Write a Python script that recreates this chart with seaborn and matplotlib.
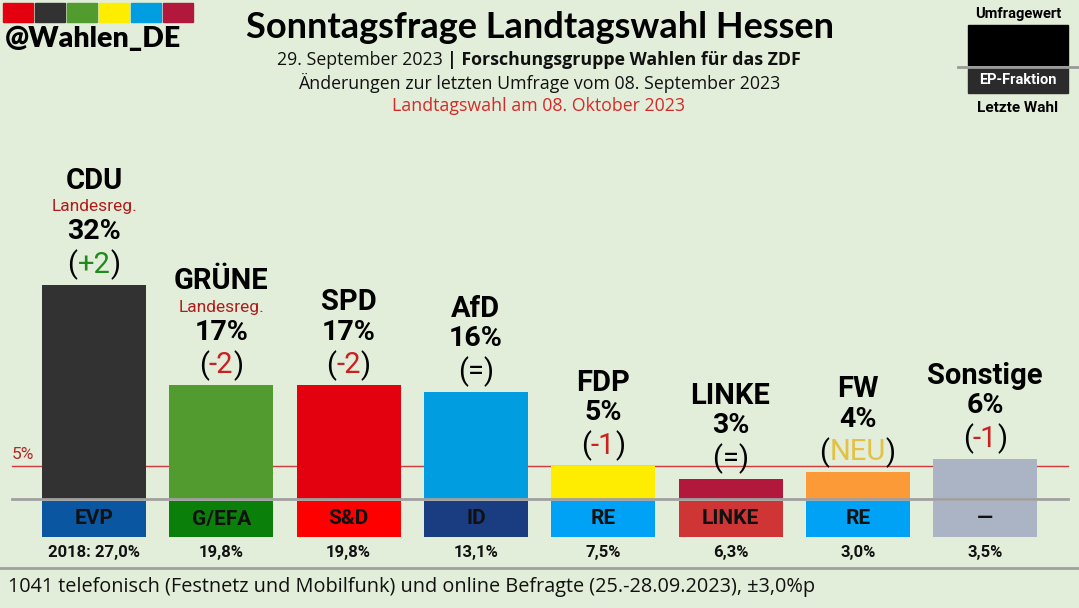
import matplotlib.pyplot as plt
import matplotlib.patches as mpatches
import seaborn as sns
import pandas as pd

parties = ["CDU", "GRÜNE", "SPD", "AfD", "FDP", "LINKE", "FW", "Sonstige"]
values = [32, 17, 17, 16, 5, 3, 4, 6]
changes = ["+2", "-2", "-2", "=", "-1", "=", "NEU", "-1"]
landesreg = [True, True, False, False, False, False, False, False]
party_colors = ["#323232", "#519b2f", "#e3000f", "#009ee0", "#ffed00", "#b2183c", "#fd9a38", "#aab4c4"]
ep_groups = ["EVP", "G/EFA", "S&D", "ID", "RE", "LINKE", "RE", "—"]
ep_colors = ["#0a56a0", "#0a800a", "#ff0000", "#1a3c80", "#00a2f5", "#cf3535", "#00a2f5", "#aab4c4"]
last_vote = ["2018: 27,0%", "19,8%", "19,8%", "13,1%", "7,5%", "6,3%", "3,0%", "3,5%"]
logo_colors = ["#e3000f", "#323232", "#519b2f", "#ffed00", "#009ee0", "#b2183c"]

BG = "#e2eed9"
W, H = 1079, 608
X0, STEP = 94, 127.3      # pixel centre of first bar, spacing
BASE, PPU = 499, 6.69     # pixel row of 0 %, pixels per %

plt.rcParams["font.family"] = ["Roboto", "DejaVu Sans"]

fig = plt.figure(figsize=(W / 100, H / 100), dpi=100, facecolor=BG)
ax = fig.add_axes([0, 0, 1, 1])
ax.set_facecolor(BG)

df = pd.DataFrame({"party": parties, "value": values})
sns.barplot(data=df, x="party", y="value", hue="party", palette=party_colors,
            width=104 / STEP, saturation=1, legend=False, linewidth=0, ax=ax, zorder=3)

# EP group boxes below the baseline
ax.bar(range(len(parties)), 36 / PPU, bottom=-38 / PPU, width=104 / STEP,
       color=ep_colors, linewidth=0, zorder=3)

ax.set_xlim(-X0 / STEP, (W - X0) / STEP)
ax.set_ylim(-(H - BASE) / PPU, BASE / PPU)
ax.set_axis_off()

ax.axhline(5, xmin=12 / W, xmax=1068 / W, color="#d03a3a", lw=1, zorder=1)
ax.text(-X0 / STEP + 12 / STEP, 5 + 4 / PPU, "5%", color="#b02a2a", fontsize=12.5,
        ha="left", va="bottom")
ax.axhline(0, xmin=12 / W, xmax=1068 / W, color="#a0a0a0", lw=2, zorder=4)

renderer = fig.canvas.get_renderer()


def change_row(x, y, change, dy):
    if change.startswith("+"):
        col = "#1f8a1f"
    elif change.startswith("-"):
        col = "#cc1f1f"
    elif change == "NEU":
        col = "#e3c146"
    else:
        col = "black"
    parts = [("(", "black"), (change, col), (")", "black")]
    texts = [ax.annotate(s, (x, y), xytext=(0, dy), textcoords="offset pixels",
                         ha="left", va="center", fontsize=21, color=c)
             for s, c in parts]
    widths = [t.get_window_extent(renderer).width for t in texts]
    cur = -sum(widths) / 2
    for t, w in zip(texts, widths):
        t.xyann = (cur, dy)
        cur += w


for i, (p, v) in enumerate(zip(parties, values)):
    change_row(i, v, changes[i], 20)
    ax.annotate(f"{v}%", (i, v), xytext=(0, 53), textcoords="offset pixels",
                ha="center", va="center", fontsize=20.5, fontweight="bold")
    if landesreg[i]:
        ax.annotate("Landesreg.", (i, v), xytext=(0, 78), textcoords="offset pixels",
                    ha="center", va="center", fontsize=12.5, color="#b01c1c")
        ax.annotate(p, (i, v), xytext=(0, 104), textcoords="offset pixels",
                    ha="center", va="center", fontsize=21, fontweight="bold")
    else:
        ax.annotate(p, (i, v), xytext=(0, 83), textcoords="offset pixels",
                    ha="center", va="center", fontsize=21, fontweight="bold")
    ax.text(i, -20 / PPU, ep_groups[i], ha="center", va="center", fontsize=15,
            fontweight="bold", color="#111111", zorder=5)
    ax.text(i, -53 / PPU, last_vote[i], ha="center", va="center", fontsize=12,
            fontweight="bold", color="#111111")


def fx(x):
    return x / W


def fy(y):
    return 1 - y / H


def fig_row(pieces, cx, cy, **kw):
    texts = [fig.text(0, fy(cy), s, va="center", ha="left", **kw, **p) for s, p in pieces]
    widths = [t.get_window_extent(renderer).width for t in texts]
    cur = cx - sum(widths) / 2
    for t, w in zip(texts, widths):
        t.set_x(fx(cur))
        cur += w


# header
fig.text(fx(540), fy(28), "Sonntagsfrage Landtagswahl Hessen", ha="center", va="center",
         fontsize=26, fontweight="bold", family="Lato")
fig_row([("29. September 2023 ", {}), ("| Forschungsgruppe Wahlen für das ZDF", {"fontweight": "bold"})],
        539, 60, fontsize=12.75, family="Open Sans", color="#111111")
fig.text(fx(539), fy(83), "Änderungen zur letzten Umfrage vom 08. September 2023", ha="center",
         va="center", fontsize=12.75, family="Open Sans", color="#111111")
fig.text(fx(539), fy(106), "Landtagswahl am 08. Oktober 2023", ha="center", va="center",
         fontsize=12.75, family="Open Sans", color="#d42a2a")

# logo
for k, c in enumerate(logo_colors):
    fig.add_artist(mpatches.Rectangle((fx(3 + k * 32), fy(22)), 30 / W, 19 / H,
                                      transform=fig.transFigure, color=c))
fig.text(fx(5), fy(39), "@Wahlen_DE", ha="left", va="center", fontsize=20.5,
         fontweight="heavy", family="Lato")

# legend box top right
fig.text(fx(1018), fy(14), "Umfragewert", ha="center", va="center", fontsize=10.5, fontweight="bold")
fig.add_artist(mpatches.Rectangle((fx(968), fy(65)), 100 / W, 40 / H,
                                  transform=fig.transFigure, color="black"))
fig.add_artist(mpatches.Rectangle((fx(968), fy(93)), 100 / W, 25 / H,
                                  transform=fig.transFigure, color="#2b2b2b"))
fig.add_artist(plt.Line2D([fx(958), fx(1079)], [fy(66.5), fy(66.5)], transform=fig.transFigure,
                          color="#9a9a9a", lw=2))
fig.text(fx(1018), fy(80), "EP-Fraktion", ha="center", va="center", fontsize=10.5,
         fontweight="bold", color="white")
fig.text(fx(1018), fy(108), "Letzte Wahl", ha="center", va="center", fontsize=11, fontweight="bold")

# footer
fig.add_artist(plt.Line2D([0, 1], [fy(568), fy(568)], transform=fig.transFigure,
                          color="#a0a0a0", lw=2))
fig.text(fx(8), fy(587), "1041 telefonisch (Festnetz und Mobilfunk) und online Befragte (25.-28.09.2023), ±3,0%p",
         ha="left", va="center", fontsize=14.3, family="Open Sans", color="#111111")

fig.savefig("out.png", dpi=100, facecolor=BG)
plt.close(fig)
